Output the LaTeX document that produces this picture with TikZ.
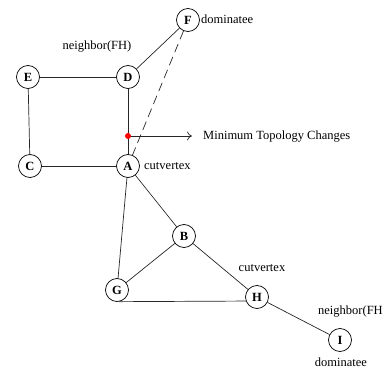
\documentclass[tikz,border=0pt]{standalone}
\usepackage{fontspec}
\setmainfont{Liberation Serif}
\usetikzlibrary{arrows.meta}
\begin{document}
\begin{tikzpicture}[x=1pt,y=-1pt,
  vertex/.style={draw, circle, minimum size=23pt, inner sep=0pt, line width=0.7pt,
    font=\fontsize{12.5}{14}\selectfont\bfseries},
  edge/.style={line width=0.7pt, draw=black!85},
  lbl/.style={inner sep=0pt, font=\fontsize{12.5}{14}\selectfont}]
  \useasboundingbox (0,0) rectangle (384,369);

  % vertices
  \node[vertex] (F) at (188,20) {F};
  \node[vertex] (E) at (28,77) {E};
  \node[vertex] (D) at (128,77) {D};
  \node[vertex] (C) at (30,166) {C};
  \node[vertex] (A) at (128,166) {A};
  \node[vertex] (B) at (184,236) {B};
  \node[vertex] (G) at (117,290) {G};
  \node[vertex] (H) at (257,297) {H};
  \node[vertex] (I) at (340,340) {I};

  % edges
  \draw[edge] (E) -- (D);
  \draw[edge] (E) -- (C);
  \draw[edge] (C) -- (A);
  \draw[edge] (D) -- (A);
  \draw[edge] (D) -- (F);
  \draw[edge, dash pattern=on 9pt off 5pt] (F) -- (A);
  \draw[edge] (A) -- (B);
  \draw[edge] (A) -- (G);
  \draw[edge] (B) -- (G);
  \draw[edge] (B) -- (H);
  \draw[edge] (G.-80) -- (H.200);
  \draw[edge] (H) -- (I);

  % marked point on D--A with its pointer
  \coordinate (M) at (128,136);
  \coordinate (Mend) at (192,136);
  \draw[edge, -{To[length=5pt,width=9pt]}] (M) -- (Mend);
  \fill[red] (M) circle (3pt);
  \node[lbl, anchor=west] (mtc) at (203,137) {Minimum Topology Changes};

  % annotations
  \node[lbl] (nD) at (97,47) {neighbor(FH)};
  \node[lbl, anchor=west] (dF) at (201,19) {dominatee};
  \node[lbl, anchor=west] (cA) at (144,166) {cutvertex};
  \node[lbl] (cH) at (262,268) {cutvertex};
  \node[lbl, anchor=west] (nI) at (318,312) {neighbor(FH};
  \node[lbl] (dI) at (341,362) {dominatee};
\end{tikzpicture}
\end{document}
